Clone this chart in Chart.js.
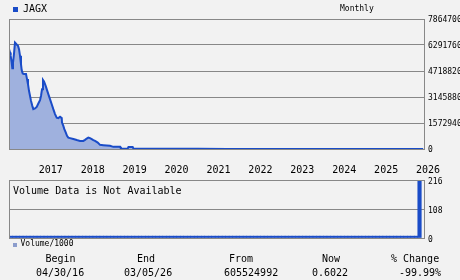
<!DOCTYPE html>
<html><head><meta charset="utf-8">
<script src="https://cdn.jsdelivr.net/npm/chart.js@4.4.1/dist/chart.umd.min.js"></script>
<style>
html,body{margin:0;padding:0;background:#f2f2f2;}
#wrap{position:relative;width:460px;height:280px;overflow:hidden;font-family:"DejaVu Sans Mono",monospace;color:#000;}
canvas{position:absolute;left:0;top:0;}
.t{position:absolute;white-space:pre;line-height:1;}
.sq{position:absolute;}
</style></head><body>
<div id="wrap">
<canvas id="price" width="460" height="280"></canvas>
<canvas id="vol" width="460" height="280"></canvas>
<div class="sq" style="left:13px;top:7px;width:5px;height:5px;background:#1a4cc8"></div>
<div class="t" id="sym" style="left:23px;top:4px;font-size:10px"></div>
<div class="t" id="freq" style="left:340px;top:5px;font-size:8px"></div>
<div class="t" id="volNote" style="left:13px;top:186px;font-size:10px"></div>
<div class="sq" style="left:13px;top:243px;width:4px;height:4px;background:#8c9dcc"></div>
<div class="t" id="volLegend" style="left:20.5px;top:240px;font-size:8px"></div>
<div id="table"></div>
</div>
<script>
// ---- data ----
const symbol = "JAGX";
const frequency = "Monthly";
const volumeNote = "Volume Data is Not Available";
const volumeLabel = "Volume/1000";

const priceYears = [2016.29,2016.314,2016.33,2016.354,2016.369,2016.385,2016.409,2016.433,2016.457,2016.481,2016.505,2016.529,2016.553,2016.576,2016.593,2016.617,2016.648,2016.696,2016.72,2016.743,2016.767,2016.791,2016.815,2016.846,2016.87,2016.91,2016.951,2016.99,2017.03,2017.054,2017.078,2017.101,2017.125,2017.149,2017.173,2017.197,2017.228,2017.268,2017.309,2017.347,2017.388,2017.428,2017.467,2017.507,2017.548,2017.555,2017.586,2017.61,2017.643,2017.674,2017.705,2017.746,2017.825,2017.906,2017.984,2018.063,2018.104,2018.144,2018.183,2018.223,2018.264,2018.302,2018.343,2018.407,2018.462,2018.54,2018.62,2018.7,2018.78,2018.94,2018.96,2019.12,2019.14,2019.24,2019.26,2019.6,2020.2,2020.8,2021.5,2022.3,2023.2,2024.2,2025.2,2026.17];
const priceMillions = [605.524992,584,564,523,489,521,576,644,638,630,624,604,564,513,477,457,453,453,423,392,352,322,291,261,241,245,255,275,296,322,362,417,408,392,376,356,332,302,271,241,211,190,187,195,187,160,140,120,100,80,69,66,60,54,49,49,55,63,69,66,60,54,49,39,25,23,21,19,13,13,2,2,12,12,1.5,1.2,1,0.8,0.5,0.3,0.15,0.06,0.01,0.0000006022];

const yearTicks = [2017,2018,2019,2020,2021,2022,2023,2024,2025,2026];
const priceTicks = [0,157294000,314588000,471882000,629176000,786470000];
const volumeTicks = [0,108,216];

const volumeStart = [2016, 5];
const volumeThousands = [7,7,7,7,7,7,7,7,7,7,7,7,7,7,7,7,7,7,7,7,7,7,7,7,7,7,7,7,7,7,7,7,7,7,7,7,7,7,7,7,7,7,7,7,7,7,7,7,7,7,7,7,7,7,7,7,7,7,7,7,7,7,7,7,7,7,7,7,7,7,7,7,7,7,7,7,7,7,7,7,7,7,7,7,7,7,7,7,7,7,7,7,7,7,7,7,7,7,7,7,7,7,7,7,7,7,7,7,7,7,7,7,7,7,7,7,7,216];

const tableHeaders = ["Begin","End","From","Now","% Change"];
const tableValues = ["04/30/16","03/05/26","605524992","0.6022","-99.99%"];

// ---- layout / style ----
const headerLefts = [45.5,137,229,322,391];
const valueLefts = [36,124,224,312,399];
const xMin = 2016.29, xMax = 2026.19;
const FONT = "'DejaVu Sans Mono', monospace";
const GRID = '#888888';
const LINE = '#1a4cc8';
const FILL = '#9fb1de';

document.getElementById('sym').textContent = symbol;
document.getElementById('freq').textContent = frequency;
document.getElementById('volNote').textContent = volumeNote;
document.getElementById('volLegend').textContent = volumeLabel;
const table = document.getElementById('table');
tableHeaders.forEach((h,i)=>{
  const d=document.createElement('div');d.className='t';d.style.cssText=`left:${headerLefts[i]}px;top:254px;font-size:10px`;d.textContent=h;table.appendChild(d);
  const v=document.createElement('div');v.className='t';v.style.cssText=`left:${valueLefts[i]}px;top:268px;font-size:10px`;v.textContent=tableValues[i];table.appendChild(v);
});

Chart.defaults.font.family = FONT;
Chart.defaults.color = '#000';

const boxPlugin = {
  id:'box',
  afterDatasetsDraw(chart){
    const a=chart.chartArea, c=chart.ctx;
    c.save(); c.strokeStyle=GRID; c.lineWidth=1;
    c.strokeRect(Math.round(a.left)+0.5, Math.round(a.top)+0.5, Math.round(a.right-a.left), Math.round(a.bottom-a.top));
    c.restore();
  }
};

new Chart(document.getElementById('price'), {
  type:'line',
  data:{datasets:[{
    data: priceYears.map((x,i)=>({x:x, y:priceMillions[i]*1e6})),
    borderColor:LINE, backgroundColor:FILL, borderWidth:2, fill:'origin',
    pointRadius:0, tension:0
  }]},
  options:{
    responsive:false, animation:false, events:[],
    layout:{padding:{left:9,top:19,right:0,bottom:0}},
    plugins:{legend:{display:false}, tooltip:{enabled:false}},
    scales:{
      x:{type:'linear', min:xMin, max:xMax, offset:false,
        grid:{display:false, drawTicks:false}, border:{display:false},
        afterBuildTicks:s=>{s.ticks=yearTicks.map(v=>({value:v}));},
        afterFit:s=>{s.height=131;},
        ticks:{align:'start', padding:15, autoSkip:false, maxRotation:0, minRotation:0,
          font:{family:FONT,size:10}, color:'#000', callback:v=>String(v)}},
      y:{position:'right', min:0, max:priceTicks[priceTicks.length-1],
        afterBuildTicks:s=>{s.ticks=priceTicks.map(v=>({value:v}));},
        afterFit:s=>{s.width=36;},
        grid:{color:GRID, drawTicks:false}, border:{display:false},
        ticks:{padding:4, labelOffset:1, font:{family:FONT,size:8}, color:'#000', callback:v=>String(v)}}
    }
  },
  plugins:[boxPlugin]
});

const volumeYears = volumeThousands.map((_,i)=>volumeStart[0]+(volumeStart[1]-1+i)/12);
new Chart(document.getElementById('vol'), {
  type:'bar',
  data:{datasets:[{
    data: volumeYears.map((x,i)=>({x:x, y:volumeThousands[i]})),
    backgroundColor:LINE, borderWidth:0, barPercentage:1, categoryPercentage:1
  }]},
  options:{
    responsive:false, animation:false, events:[],
    layout:{padding:{left:9,top:180,right:0,bottom:42}},
    plugins:{legend:{display:false}, tooltip:{enabled:false}},
    scales:{
      x:{type:'linear', display:false, min:xMin, max:xMax, offset:false, grid:{offset:false}},
      y:{position:'right', min:0, max:volumeTicks[volumeTicks.length-1],
        afterBuildTicks:s=>{s.ticks=volumeTicks.map(v=>({value:v}));},
        afterFit:s=>{s.width=36;},
        grid:{color:GRID, drawTicks:false}, border:{display:false},
        ticks:{padding:4, labelOffset:2, font:{family:FONT,size:8}, color:'#000', callback:v=>String(v)}}
    }
  },
  plugins:[boxPlugin]
});
</script>
</body></html>
